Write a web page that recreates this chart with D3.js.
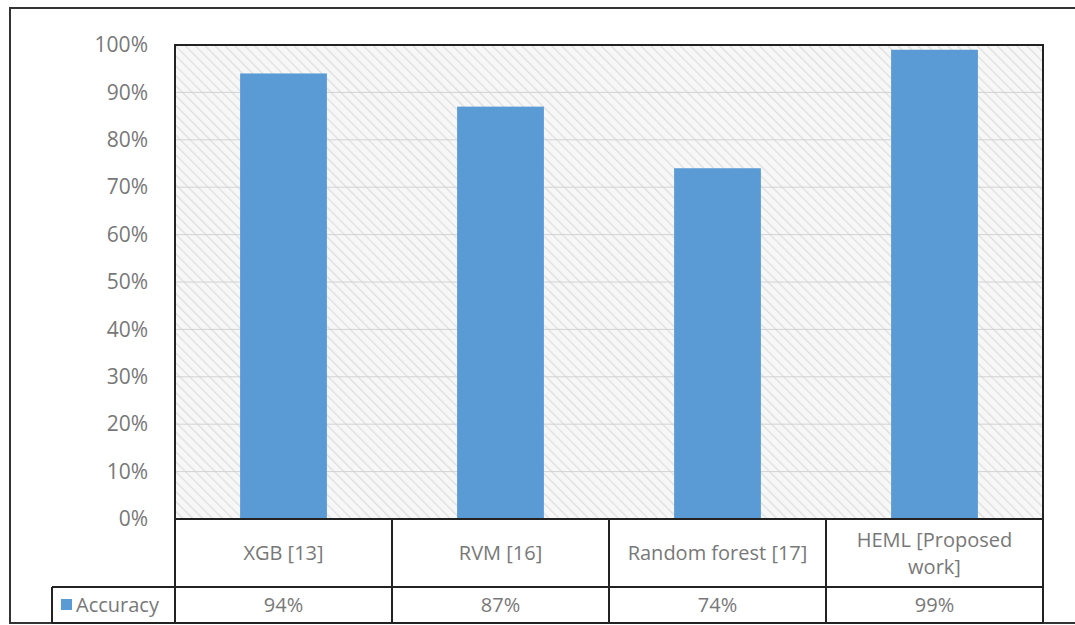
<!DOCTYPE html>
<html>
<head>
<meta charset="utf-8">
<script src="https://cdn.jsdelivr.net/npm/d3@7"></script>
<style>
  html, body { margin: 0; padding: 0; background: #fff; }
  svg { display: block; }
  text { font-family: "Open Sans", "Noto Sans", sans-serif; fill: #787878; }
</style>
</head>
<body>
<svg id="chart" width="1075" height="625"></svg>
<script>
// Accuracy of each method
const categories = ["XGB [13]", "RVM [16]", "Random forest [17]", "HEML [Proposed work]"];
const categoryLines = [["XGB [13]"], ["RVM [16]"], ["Random forest [17]"], ["HEML [Proposed", "work]"]];
const seriesName = "Accuracy";
const accuracy = [0.94, 0.87, 0.74, 0.99];
const yTicks = [0, 0.1, 0.2, 0.3, 0.4, 0.5, 0.6, 0.7, 0.8, 0.9, 1.0];

const svg = d3.select("#chart");
const plot = { left: 175, right: 1043, top: 45, bottom: 519 };
const rowCatBottom = 587, rowValBottom = 623, legendLeft = 52;
const lineColor = "#222";
const textSize = "20px";

const x = d3.scaleBand().domain(categories).range([plot.left, plot.right])
  .paddingInner(0.6).paddingOuter(0.3);
const xCell = d3.scaleBand().domain(categories).range([plot.left, plot.right]).padding(0);
const y = d3.scaleLinear().domain([0, 1]).range([plot.bottom, plot.top]);
const pct = d3.format(".0%");

// hatched plot background (stripes falling to the right)
const defs = svg.append("defs");
const pat = defs.append("pattern").attr("id", "hatch").attr("patternUnits", "userSpaceOnUse")
  .attr("width", 7).attr("height", 7).attr("patternTransform", "rotate(-45)");
pat.append("rect").attr("width", 7).attr("height", 7).attr("fill", "#f7f7f7");
pat.append("line").attr("x1", 0).attr("y1", 0).attr("x2", 0).attr("y2", 7)
  .attr("stroke", "#dedede").attr("stroke-width", 2.5);

// outer frame
svg.append("rect").attr("x", 10).attr("y", 8).attr("width", 1100).attr("height", rowValBottom - 8)
  .attr("fill", "none").attr("stroke", "#333").attr("stroke-width", 2);

svg.append("rect").attr("x", plot.left).attr("y", plot.top)
  .attr("width", plot.right - plot.left).attr("height", plot.bottom - plot.top)
  .attr("fill", "url(#hatch)");

// horizontal gridlines
svg.append("g").selectAll("line").data(yTicks.slice(1, -1)).join("line")
  .attr("x1", plot.left).attr("x2", plot.right)
  .attr("y1", d => y(d)).attr("y2", d => y(d))
  .attr("stroke", "#d2d2d2").attr("stroke-width", 1);

// y axis labels
const yAxis = svg.append("g").attr("transform", `translate(${plot.left},0)`)
  .call(d3.axisLeft(y).tickValues(yTicks).tickFormat(pct).tickSize(0).tickPadding(27));
yAxis.select(".domain").remove();
yAxis.selectAll("text").style("font-size", "21px").attr("fill", "#787878")
  .style("font-family", "'Open Sans', sans-serif");

// bars
svg.append("g").selectAll("rect").data(categories).join("rect")
  .attr("x", d => x(d)).attr("width", x.bandwidth())
  .attr("y", (d, i) => y(accuracy[i]))
  .attr("height", (d, i) => y(0) - y(accuracy[i]))
  .attr("fill", "#5b9bd5");

// plot border
svg.append("rect").attr("x", plot.left).attr("y", plot.top)
  .attr("width", plot.right - plot.left).attr("height", plot.bottom - plot.top)
  .attr("fill", "none").attr("stroke", lineColor).attr("stroke-width", 2);

// data table
const table = svg.append("g").attr("stroke", lineColor).attr("stroke-width", 2);
table.append("line").attr("x1", legendLeft).attr("x2", plot.right).attr("y1", rowCatBottom).attr("y2", rowCatBottom);
table.append("line").attr("x1", legendLeft).attr("x2", plot.right).attr("y1", rowValBottom).attr("y2", rowValBottom);
table.append("line").attr("x1", legendLeft).attr("x2", legendLeft).attr("y1", rowCatBottom).attr("y2", rowValBottom);
table.selectAll("line.v").data(categories.concat(["end"])).join("line").attr("class", "v")
  .attr("x1", (d, i) => i < categories.length ? xCell(d) : plot.right)
  .attr("x2", (d, i) => i < categories.length ? xCell(d) : plot.right)
  .attr("y1", plot.bottom).attr("y2", rowValBottom);

// category labels
const catRowMid = (plot.bottom + rowCatBottom) / 2;
svg.append("g").selectAll("text").data(categories).join("text")
  .attr("x", d => xCell(d) + xCell.bandwidth() / 2)
  .attr("text-anchor", "middle").style("font-size", textSize)
  .each(function (d, i) {
    const lines = categoryLines[i];
    const t = d3.select(this);
    lines.forEach((ln, k) => {
      t.append("tspan").attr("x", xCell(d) + xCell.bandwidth() / 2)
        .attr("y", catRowMid + (k - (lines.length - 1) / 2) * 27)
        .attr("dy", "0.35em").text(ln);
    });
  });

// value row
const valRowMid = (rowCatBottom + rowValBottom) / 2;
svg.append("g").selectAll("text").data(categories).join("text")
  .attr("x", d => xCell(d) + xCell.bandwidth() / 2)
  .attr("y", valRowMid).attr("dy", "0.35em")
  .attr("text-anchor", "middle").style("font-size", textSize)
  .text((d, i) => pct(accuracy[i]));

// legend key
svg.append("rect").attr("x", 61).attr("y", valRowMid - 6).attr("width", 11).attr("height", 11).attr("fill", "#5b9bd5");
svg.append("text").attr("x", 76).attr("y", valRowMid).attr("dy", "0.35em")
  .style("font-size", textSize).text(seriesName);
</script>
</body>
</html>
